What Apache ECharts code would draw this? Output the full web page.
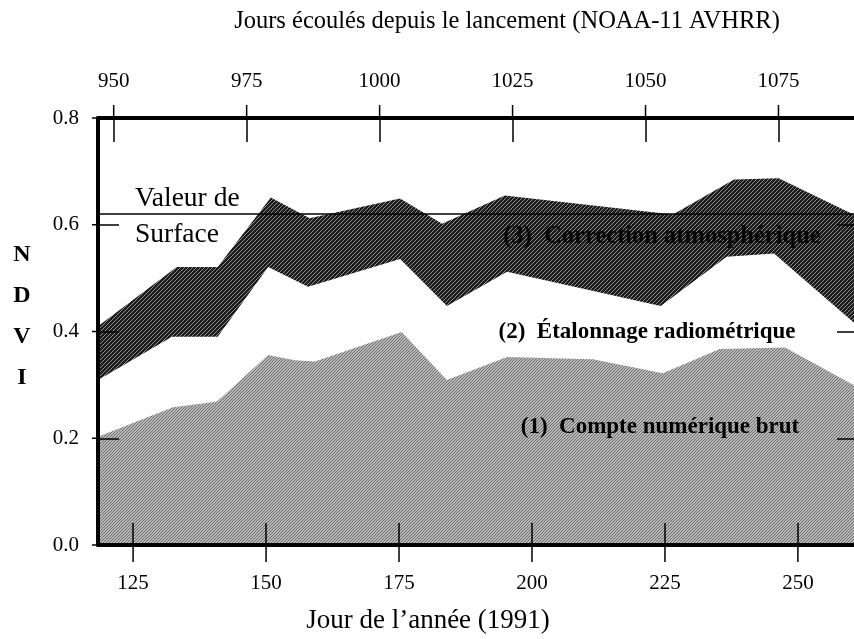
<!DOCTYPE html>
<html><head><meta charset="utf-8">
<script src="https://cdn.jsdelivr.net/npm/echarts@6/dist/echarts.min.js"></script>
<style>html,body{margin:0;padding:0;background:#fff}#c{width:854px;height:639px}</style>
</head><body><div id="c"></div>
<script>
// ---- data ----
const dayTicks = [125, 150, 175, 200, 225, 250];
const launchTicks = [950, 975, 1000, 1025, 1050, 1075];
const ndviTicks = [0, 0.2, 0.4, 0.6, 0.8];
const dayMin = 118.4, dayMax = 261.3;
const launchOffset = 828.65; // days since launch = day of year + offset

// (3) Correction atmosphérique (upper edge of dark band)
const corrDays = [118.4, 133.2, 140.9, 150.9, 158.2, 175.2, 183.1, 194.9, 226.5, 238.0, 246.4, 261.3];
const corrVals = [0.410, 0.521, 0.521, 0.651, 0.612, 0.649, 0.602, 0.655, 0.619, 0.685, 0.687, 0.615];
// (2) Étalonnage radiométrique (lower edge of dark band)
const etalDays = [118.4, 132.3, 140.9, 150.4, 157.9, 175.2, 184.0, 195.3, 224.2, 236.6, 245.5, 261.3];
const etalVals = [0.309, 0.390, 0.390, 0.521, 0.484, 0.536, 0.448, 0.512, 0.448, 0.540, 0.546, 0.410];
// (1) Compte numérique brut
const brutDays = [118.4, 132.5, 138.1, 140.8, 150.4, 155.4, 159.2, 175.5, 184.0, 195.3, 211.4, 224.6, 235.3, 247.6, 261.3];
const brutVals = [0.203, 0.258, 0.265, 0.269, 0.356, 0.346, 0.344, 0.399, 0.309, 0.352, 0.348, 0.322, 0.367, 0.370, 0.295];
const surfaceValue = 0.62;

const zip = (xs, ys) => xs.map((x, i) => [x, ys[i]]);

// ---- textures ----
function pattern(size, base, dots, dotColor) {
  const c = document.createElement('canvas');
  c.width = size; c.height = size;
  const g = c.getContext('2d');
  g.fillStyle = base; g.fillRect(0, 0, size, size);
  g.fillStyle = dotColor;
  dots.forEach(([x, y]) => g.fillRect(x, y, 1, 1));
  return c;
}
const darkTex = pattern(4, '#1c1c1c', [[0,3],[1,2],[2,1],[3,0]], '#8c8c8c');
const grayTex = pattern(3, '#b8b8b8', [[0,0],[1,2],[2,1]], '#6e6e6e');

const FONT = '"Liberation Serif", "Times New Roman", serif';
const black = '#000';
const tickStyle = { color: black, width: 1.5 };

function xAxisMain(pos, min, max, ticks, tickLen, labelMargin) {
  return {
    type: 'value', position: pos, min: min, max: max, z: 10,
    splitLine: { show: false },
    axisLine: { show: true, onZero: false, lineStyle: { color: black, width: 4 } },
    axisTick: { show: true, inside: true, customValues: ticks, length: tickLen, lineStyle: tickStyle },
    axisLabel: { show: true, customValues: ticks, margin: labelMargin, fontSize: 21, fontFamily: FONT, color: black, formatter: v => String(Math.round(v)) }
  };
}

const yCommon = { type: 'value', min: 0, max: 0.8, interval: 0.2, z: 10, splitLine: { show: false } };

function txt(text, x, y, font, align, fill) {
  return { type: 'text', x: x, y: y, z: 100, silent: true,
    style: { text: text, font: font, fill: fill || black, textAlign: align, textVerticalAlign: 'middle', align: align, verticalAlign: 'middle' } };
}

const texts = [
  txt('Jours écoulés depuis le lancement (NOAA-11 AVHRR)', 507, 22, '24.5px ' + FONT, 'center'),
  txt('Jour de l’année (1991)', 428, 621, '27px ' + FONT, 'center'),
  txt('N', 22, 255, 'bold 24px ' + FONT, 'center'),
  txt('D', 22, 296, 'bold 24px ' + FONT, 'center'),
  txt('V', 22, 337, 'bold 24px ' + FONT, 'center'),
  txt('I', 22, 378, 'bold 24px ' + FONT, 'center'),
  txt('Valeur de', 135, 199, '27.5px ' + FONT, 'left'),
  txt('Surface', 135, 235, '27.5px ' + FONT, 'left'),
  txt('(3)  Correction atmosphérique', 662, 237, 'bold 24.5px ' + FONT, 'center', '#050505'),
  txt('(2)  Étalonnage radiométrique', 647, 332, 'bold 23px ' + FONT, 'center'),
  txt('(1)  Compte numérique brut', 660, 427, 'bold 23px ' + FONT, 'center')
];

function buildOption(graphicEls) {
  return {
    animation: false,
    backgroundColor: '#fff',
    grid: { left: 98, right: -4, top: 118, bottom: 94, containLabel: false, outerBoundsMode: 'none' },
    xAxis: [
      xAxisMain('bottom', dayMin, dayMax, dayTicks, 22, 28),
      xAxisMain('top', dayMin + launchOffset, dayMax + launchOffset, launchTicks, 24, 26)
    ],
    yAxis: [
      Object.assign({}, yCommon, {
        position: 'left',
        axisLine: { show: true, onZero: false, lineStyle: { color: black, width: 4 } },
        axisTick: { show: true, inside: true, length: 21, lineStyle: tickStyle },
        axisLabel: { show: true, margin: 19, fontSize: 21, fontFamily: FONT, color: black, formatter: v => v.toFixed(1) }
      }),
      Object.assign({}, yCommon, {
        position: 'right',
        axisLine: { show: true, onZero: false, lineStyle: { color: black, width: 4 } },
        axisTick: { show: true, inside: true, length: 21, lineStyle: tickStyle },
        axisLabel: { show: false }
      })
    ],
    series: [
      {
        name: '(3) Correction atmosphérique', type: 'line', xAxisIndex: 0, yAxisIndex: 0,
        data: zip(corrDays, corrVals), symbol: 'none', silent: true, z: 2,
        lineStyle: { width: 0 },
        areaStyle: { color: { image: darkTex, repeat: 'repeat' }, opacity: 1 }
      },
      {
        name: '(2) Étalonnage radiométrique', type: 'line', xAxisIndex: 0, yAxisIndex: 0,
        data: zip(etalDays, etalVals), symbol: 'none', silent: true, z: 3,
        lineStyle: { width: 0 },
        areaStyle: { color: '#fff', opacity: 1 }
      },
      {
        name: '(1) Compte numérique brut', type: 'line', xAxisIndex: 0, yAxisIndex: 0,
        data: zip(brutDays, brutVals), symbol: 'none', silent: true, z: 4,
        lineStyle: { width: 0 },
        areaStyle: { color: { image: grayTex, repeat: 'repeat' }, opacity: 1 },
        markLine: {
          silent: true, symbol: 'none', animation: false,
          label: { show: false },
          lineStyle: { color: black, width: 1.5, type: 'solid' },
          data: [{ yAxis: surfaceValue }]
        }
      }
    ],
    graphic: graphicEls
  };
}

const chart = echarts.init(document.getElementById('c'), null, { renderer: 'canvas' });
chart.setOption(buildOption(texts));

// outward halves of the tick marks (the original's ticks cross the axis lines),
// placed from the tick values through the chart's own axes
function stub(x, y, dx, dy) {
  return { type: 'rect', z: 100, silent: true,
    shape: { x: Math.min(x, x + dx) - (dx === 0 ? 0.75 : 0), y: Math.min(y, y + dy) - (dy === 0 ? 0.75 : 0),
             width: dx === 0 ? 1.5 : Math.abs(dx), height: dy === 0 ? 1.5 : Math.abs(dy) },
    style: { fill: black } };
}
const extra = [];
let bad = [];
try {
  const px = (idx, v) => chart.convertToPixel({ xAxisIndex: idx }, v);
  const py = v => chart.convertToPixel({ yAxisIndex: 0 }, v);
  const add = (x, y, dx, dy) => {
    if (isFinite(x) && isFinite(y)) extra.push(stub(x, y, dx, dy)); else bad.push(String(x) + ',' + String(y));
  };
  dayTicks.forEach(v => add(px(0, v), py(0), 0, 17));
  launchTicks.forEach(v => add(px(1, v), py(0.8), 0, -13));
  ndviTicks.forEach(v => add(px(0, dayMin), py(v), -6, 0));
} catch (e) {
  bad.push('ERR ' + e.message);
}
if (bad.length) extra.push(txt('dbg ' + bad.slice(0, 3).join(' | '), 5, 632, '11px sans-serif', 'left', '#f00'));
chart.setOption(buildOption(texts.concat(extra)), true);
</script>
</body></html>
